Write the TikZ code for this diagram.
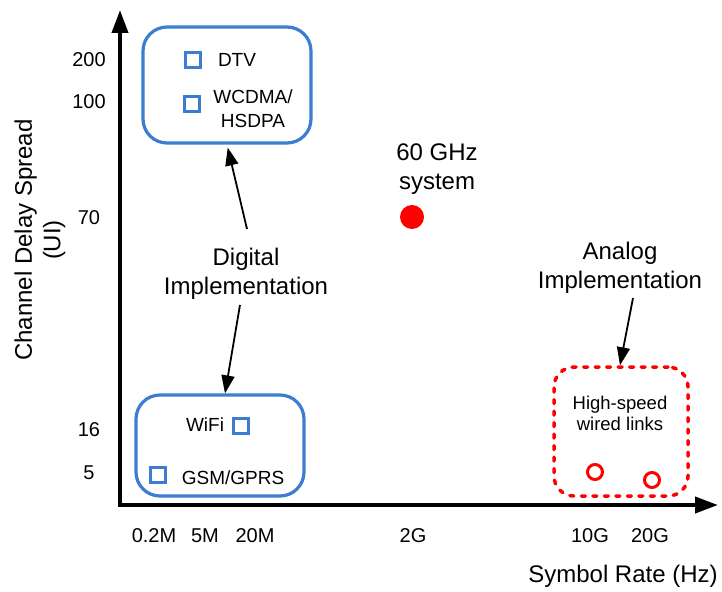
\documentclass[tikz,border=0pt]{standalone}
\usepackage{fontspec}
\setmainfont{Liberation Sans}
\usetikzlibrary{arrows.meta,positioning}
\definecolor{sysblue}{RGB}{60,125,210}
\definecolor{sysred}{RGB}{255,0,0}

\begin{document}
\begin{tikzpicture}[x=1pt,y=-1pt,node distance=12pt,
    big/.style={font=\fontsize{24}{28.5}\selectfont,align=center,inner sep=0pt},
    tick/.style={font=\fontsize{20}{24}\selectfont,inner sep=0pt},
    lbl/.style={font=\fontsize{19}{24}\selectfont,align=center,inner sep=0pt},
    digibox/.style={draw=sysblue,line width=3.2pt,rounded corners=24pt,inner sep=0pt},
    anabox/.style={draw=sysred,line width=3.5pt,rounded corners=20pt,
      line cap=round,dash pattern=on 4pt off 7.5pt,inner sep=0pt},
    sq/.style={draw=sysblue,line width=3pt,minimum size=15pt,inner sep=0pt},
    ring/.style={circle,draw=sysred,line width=3pt,minimum size=15pt,inner sep=0pt},
    axis/.style={line width=4pt,{Triangle[length=23pt,width=16pt]}-{Triangle[length=23pt,width=16pt]}},
    pointer/.style={line width=1.8pt,-{Triangle[length=18pt,width=13pt]}}]
  \useasboundingbox (0,0) rectangle (722,591);

  % axes
  \coordinate (ytop) at (120,10);
  \coordinate (origin) at (120,505);
  \coordinate (xend) at (718,505);
  \draw[axis] (ytop) -- (origin) -- (xend);
  \node (ytitle)[big,rotate=90] at (40,240) {Channel Delay Spread\\(UI)};
  \node (xtitle)[big] at (623,576) {Symbol Rate (Hz)};

  % tick labels
  \node (y200)[tick] at (89,60) {200};
  \node (y100)[tick] at (89,102) {100};
  \node (y70)[tick] at (89,218) {70};
  \node (y16)[tick] at (89,430) {16};
  \node (y5)[tick] at (89,473) {5};
  \node (x02M)[tick] at (154,536) {0.2M};
  \node (x5M)[tick] at (205,536) {5M};
  \node (x20M)[tick] at (255,536) {20M};
  \node (x2G)[tick] at (413,536) {2G};
  \node (x10G)[tick] at (590,536) {10G};
  \node (x20G)[tick] at (650,536) {20G};

  % digital systems
  \node (topbox)[digibox,minimum width=168pt,minimum height=116pt] at (227,85) {};
  \node (dtvsq)[sq] at (193,60) {};
  \node (dtv)[lbl] at (237,60) {DTV};
  \node (wcdmasq)[sq] at (192,104) {};
  \node (wcdma)[lbl] at (253,109) {WCDMA/\\HSDPA};

  \node (botbox)[digibox,minimum width=168pt,minimum height=101pt] at (220,445.5) {};
  \node (wifi)[lbl] at (205,425) {WiFi};
  \node (wifisq)[sq] at (241,426) {};
  \node (gsmsq)[sq] at (158,475) {};
  \node (gsm)[lbl] at (233,478) {GSM/GPRS};

  \node (digital)[big] at (246,274) {Digital\\Implementation};
  \coordinate (digup) at (247,229);
  \coordinate (digdown) at (240,305);
  \draw[pointer,shorten >=3pt] (digup) -- (topbox.south);
  \draw[pointer] (digdown) -- ([xshift=5pt]botbox.north);

  % 60 GHz
  \node (dot60)[circle,fill=sysred,minimum size=24pt,inner sep=0pt] at (412,217) {};
  \node (ghz)[big] at (437,169) {60 GHz\\system};

  % analog
  \node (anbox)[anabox,minimum width=134pt,minimum height=129pt] at (621,431.5) {};
  \node (wired)[lbl,font=\fontsize{18.5}{21}\selectfont] at (620,413) {High-speed\\wired links};
  \node (ring10)[ring] at (595,472) {};
  \node (ring20)[ring] at (652,480) {};
  \node (analog)[big] at (620,268) {Analog\\Implementation};
  \coordinate (anadown) at (633,298);
  \draw[pointer] (anadown) -- ([xshift=-1pt]anbox.north);
\end{tikzpicture}
\end{document}
